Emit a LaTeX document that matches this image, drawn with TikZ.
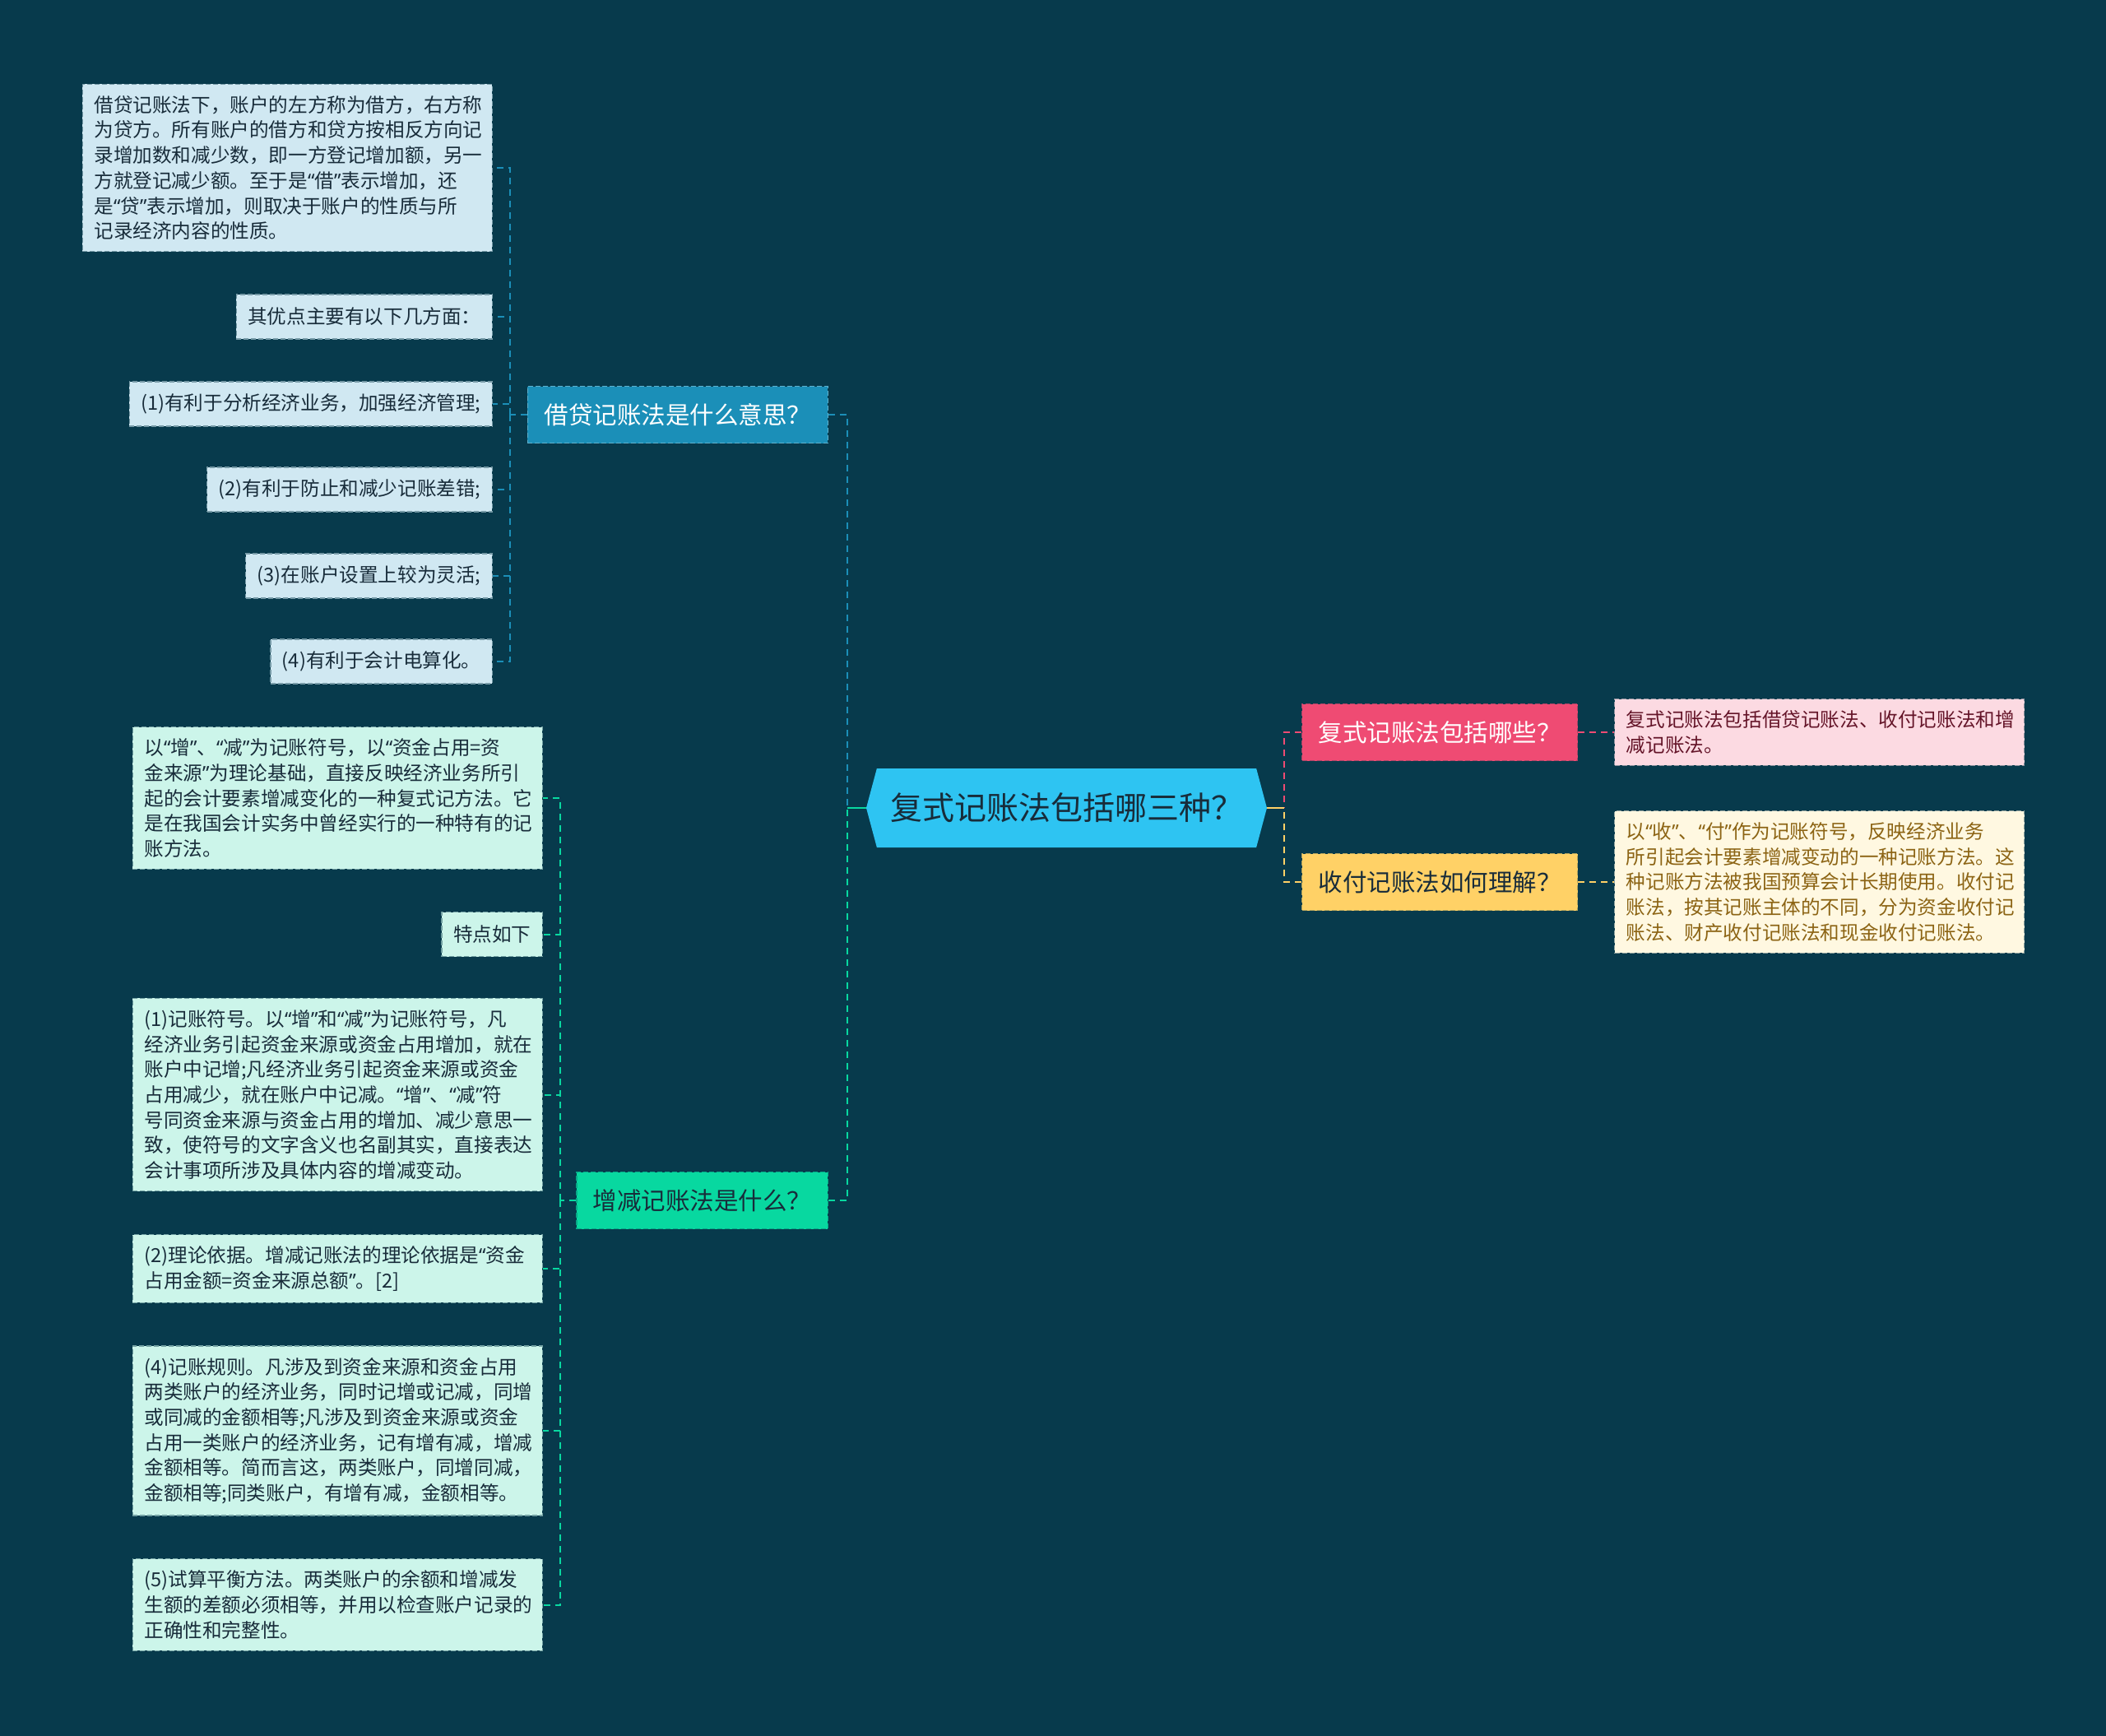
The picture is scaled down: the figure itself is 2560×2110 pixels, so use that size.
\documentclass[tikz,border=0pt]{standalone}
\usepackage{fontspec}
\setmainfont{Noto Sans CJK SC}
\newfontfamily\qtfont{Noto Sans}
\newcommand\oq{{\qtfont “}}
\newcommand\cq{{\qtfont ”}}
\usetikzlibrary{positioning,shapes.symbols}

\definecolor{bgcol}{RGB}{7,58,76}
\definecolor{rootcol}{RGB}{46,196,242}
\definecolor{jdcol}{RGB}{27,143,184}
\definecolor{jdleafcol}{RGB}{208,232,242}
\definecolor{zjcol}{RGB}{8,216,160}
\definecolor{zjleafcol}{RGB}{204,245,234}
\definecolor{fscol}{RGB}{239,75,115}
\definecolor{fsleafcol}{RGB}{252,218,226}
\definecolor{sfcol}{RGB}{255,209,102}
\definecolor{sfleafcol}{RGB}{255,248,225}
\definecolor{darktext}{RGB}{24,44,58}
\definecolor{fstext}{RGB}{100,20,40}
\definecolor{sftext}{RGB}{140,100,20}

\begin{document}
\begin{tikzpicture}[
    x=0.5pt,y=-0.5pt,
    root/.style={
      signal,
      signal to=west and east,
      signal pointer angle=150,
      fill=rootcol,
      text=darktext,
      font=\fontsize{19.5pt}{22pt}\selectfont,
      minimum width=243.5pt,
      minimum height=48pt,
      inner sep=0pt
    },
    topic/.style={
      draw,
      dash pattern=on 3pt off 1.5pt,
      line width=0.6pt,
      inner xsep=10pt,
      inner ysep=0pt,
      minimum height=34.5pt,
      font=\fontsize{14.75pt}{17pt}\selectfont
    },
    leaf/.style={
      draw,
      dash pattern=on 3pt off 1.5pt,
      line width=0.6pt,
      align=left,
      inner xsep=7pt,
      inner ysep=7pt,
      minimum height=27pt,
      font=\fontsize{11.8pt}{15.35pt}\selectfont
    },
    wide/.style={leaf,text width=235pt},
    link/.style={dash pattern=on 4pt off 3pt,line width=1pt},
    jdleaf/.style={leaf,fill=jdleafcol,draw=jdleafcol!55!bgcol,text=darktext,anchor=east},
    zjleaf/.style={wide,fill=zjleafcol,draw=zjleafcol!55!bgcol,text=darktext,anchor=east}
    ]
    \useasboundingbox[fill=bgcol] (0,0) rectangle (2560,2110);

    % centre
    \node[root] (root) at (1296.5,982) {复式记账法包括哪三种？};

    % main topics
    \node[topic,fill=jdcol,draw=jdcol!70!white,text=white,anchor=east,minimum width=182.5pt] (jd) at (1007,504) {借贷记账法是什么意思？};
    \node[topic,fill=zjcol,draw=zjcol!70!bgcol,text=darktext,anchor=east,minimum width=152.5pt] (zj) at (1007,1459) {增减记账法是什么？};
    \node[topic,fill=fscol,draw=fscol!70!bgcol,text=white,anchor=west,minimum width=167.5pt] (fs) at (1582,890) {复式记账法包括哪些？};
    \node[topic,fill=sfcol,draw=sfcol!70!bgcol,text=darktext,anchor=west,minimum width=167.5pt] (sf) at (1582,1072) {收付记账法如何理解？};

    % 借贷 branch
    \node[jdleaf,text width=235pt] (jd1) at (599,204) {借贷记账法下，账户的左方称为借方，右方称\\
      为贷方。所有账户的借方和贷方按相反方向记\\
      录增加数和减少数，即一方登记增加额，另一\\
      方就登记减少额。至于是\oq 借\cq 表示增加，还\\
      是\oq 贷\cq 表示增加，则取决于账户的性质与所\\
      记录经济内容的性质。};
    \node[jdleaf] (jd2) at (599,385) {其优点主要有以下几方面：};
    \node[jdleaf] (jd3) at (599,491) {(1)有利于分析经济业务，加强经济管理;};
    \node[jdleaf] (jd4) at (599,595) {(2)有利于防止和减少记账差错;};
    \node[jdleaf] (jd5) at (599,700) {(3)在账户设置上较为灵活;};
    \node[jdleaf] (jd6) at (599,804) {(4)有利于会计电算化。};

    % 增减 branch
    \node[zjleaf] (zj1) at (660,970) {以\oq 增\cq 、\oq 减\cq 为记账符号，以\oq 资金占用=资\\
      金来源\cq 为理论基础，直接反映经济业务所引\\
      起的会计要素增减变化的一种复式记方法。它\\
      是在我国会计实务中曾经实行的一种特有的记\\
      账方法。};
    \node[leaf,fill=zjleafcol,draw=zjleafcol!55!bgcol,text=darktext,anchor=east] (zj2) at (660,1135.5) {特点如下};
    \node[zjleaf] (zj3) at (660,1330.5) {(1)记账符号。以\oq 增\cq 和\oq 减\cq 为记账符号，凡\\
      经济业务引起资金来源或资金占用增加，就在\\
      账户中记增;凡经济业务引起资金来源或资金\\
      占用减少，就在账户中记减。\oq 增\cq 、\oq 减\cq 符\\
      号同资金来源与资金占用的增加、减少意思一\\
      致，使符号的文字含义也名副其实，直接表达\\
      会计事项所涉及具体内容的增减变动。};
    \node[zjleaf] (zj4) at (660,1542) {(2)理论依据。增减记账法的理论依据是\oq 资金\\
      占用金额=资金来源总额\cq 。[2]};
    \node[zjleaf] (zj5) at (660,1739) {(4)记账规则。凡涉及到资金来源和资金占用\\
      两类账户的经济业务，同时记增或记减，同增\\
      或同减的金额相等;凡涉及到资金来源或资金\\
      占用一类账户的经济业务，记有增有减，增减\\
      金额相等。简而言这，两类账户，同增同减，\\
      金额相等;同类账户，有增有减，金额相等。};
    \node[zjleaf] (zj6) at (660,1950.5) {(5)试算平衡方法。两类账户的余额和增减发\\
      生额的差额必须相等，并用以检查账户记录的\\
      正确性和完整性。};

    % right side
    \node[wide,fill=fsleafcol,draw=fsleafcol!55!bgcol,text=fstext,right=22pt of fs] (fs1) {复式记账法包括借贷记账法、收付记账法和增\\
      减记账法。};
    \node[wide,fill=sfleafcol,draw=sfleafcol!55!bgcol,text=sftext,right=22pt of sf] (sf1) {以\oq 收\cq 、\oq 付\cq 作为记账符号，反映经济业务\\
      所引起会计要素增减变动的一种记账方法。这\\
      种记账方法被我国预算会计长期使用。收付记\\
      账法，按其记账主体的不同，分为资金收付记\\
      账法、财产收付记账法和现金收付记账法。};

    \coordinate (jdfork) at (620,504);
    \coordinate (zjfork) at (681,1459);
    \coordinate (lfork) at (1030,982);
    \coordinate (rfork) at (1561,982);

    \draw[link,jdcol] (jd.west) -- (jdfork);
    \foreach \n in {1,...,6}
      \draw[link,jdcol] (jdfork) |- (jd\n.east);
    \draw[link,zjcol] (zj.west) -- (zjfork);
    \foreach \n in {1,...,6}
      \draw[link,zjcol] (zjfork) |- (zj\n.east);

    \draw[link,jdcol] (jd.east) -| (lfork);
    \draw[link,zjcol] (zj.east) -| (lfork);
    \draw[zjcol,line width=1pt] (lfork) -- (root.west);
    \draw[link,fscol] (fs.west) -| (rfork);
    \draw[link,sfcol] (sf.west) -| (rfork);
    \draw[sfcol,line width=1pt] (rfork) -- (root.east);
    \draw[link,fscol] (fs.east) -- (fs1.west);
    \draw[link,sfcol] (sf.east) -- (sf1.west);
\end{tikzpicture}
\end{document}
